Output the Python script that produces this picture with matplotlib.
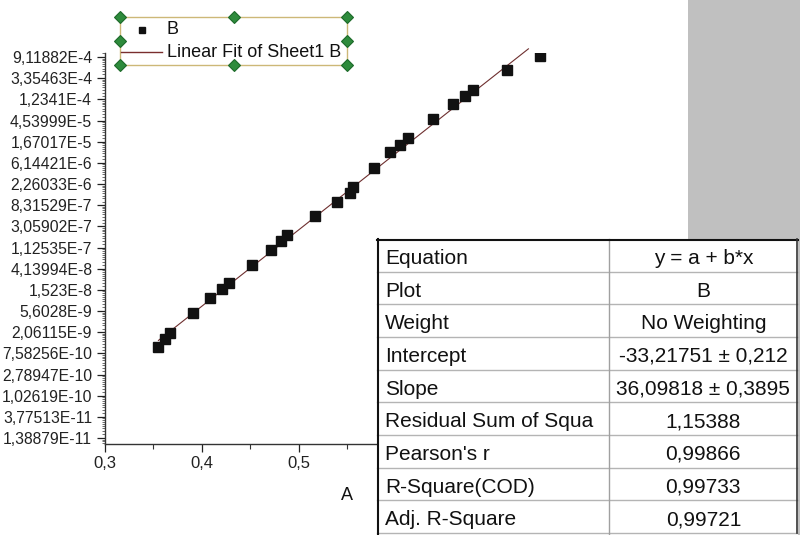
import numpy as np
import matplotlib
matplotlib.use('Agg')
import matplotlib.pyplot as plt
from matplotlib.ticker import FixedLocator, FuncFormatter, NullFormatter
from matplotlib.patches import Rectangle
from matplotlib.lines import Line2D

plt.rcParams['font.family'] = ['Liberation Sans', 'DejaVu Sans']

# ---------------- data ----------------
A_vals = [0.3554, 0.3622, 0.3674, 0.3914, 0.4091, 0.4211, 0.4279, 0.4523,
          0.4715, 0.4823, 0.4885, 0.5169, 0.5398, 0.5529, 0.5560, 0.5775,
          0.5943, 0.6049, 0.6127, 0.6384, 0.6589, 0.6717, 0.6795, 0.7144,
          0.7493]
lnB_vals = [-20.71, -20.31, -20.02, -19.08, -18.40, -17.97, -17.69, -16.83,
            -16.12, -15.68, -15.42, -14.50, -13.84, -13.44, -13.15, -12.22,
            -11.51, -11.16, -10.81, -9.93, -9.23, -8.84, -8.56, -7.61,
            -6.95]
B_vals = np.exp(lnB_vals)

fit_intercept = -33.21751
fit_slope = 36.09818
fit_x_end = 0.737

y_tick_exps = list(range(-7, -26, -1))
x_ticks = [0.3, 0.4, 0.5]          # the ones not hidden by the result table
x_minor = [0.35, 0.45, 0.55]

series_names = ['B', 'Linear Fit of Sheet1 B']
x_label = 'A'
table_labels = ['Equation', 'Plot', 'Weight', 'Intercept', 'Slope',
                'Residual Sum of Squa', "Pearson's r", 'R-Square(COD)',
                'Adj. R-Square']
table_values = ['y = a + b*x', 'B', 'No Weighting', '-33,21751 \u00b1 0,212',
                '36,09818 \u00b1 0,3895', '1,15388', '0,99866', '0,99733',
                '0,99721']

# ---------------- figure ----------------
W, H = 800, 535
fig = plt.figure(figsize=(8, 5.35), dpi=100)
fig.patch.set_facecolor('white')


def fx(px):
    return px / W


def fy(py):
    return 1 - py / H


# gray area on the right
fig.patches.append(Rectangle((fx(688), 0), 1 - fx(688), 1, transform=fig.transFigure,
                             facecolor='#c0c0c0', edgecolor='none', zorder=0))

ax_l, ax_r, ax_t, ax_b = 104.7, 589.5, 53, 444
ax = fig.add_axes([fx(ax_l), fy(ax_b), (ax_r - ax_l) / W, (ax_b - ax_t) / H])
ax.set_yscale('log', base=np.e)
ax.set_xlim(0.3, 0.8)
ax.set_ylim(np.exp(-25.28), np.exp(-6.81))

# data and fit
ax.plot(A_vals, B_vals, 's', ms=6.5, color='#111111', mec='#111111', zorder=3)
fx_line = np.array([min(A_vals), fit_x_end])
ax.plot(fx_line, np.exp(fit_intercept + fit_slope * fx_line), '-', color='#6e2f2f',
        lw=0.8, clip_on=False, zorder=2)

# ticks
ax.yaxis.set_major_locator(FixedLocator(np.exp(y_tick_exps)))
minor = []
for k in range(-26, -6):
    lo, hi = np.exp(k), np.exp(k + 1)
    for j in range(1, 9):
        minor.append(lo + j * (hi - lo) / 9)
ax.yaxis.set_minor_locator(FixedLocator(minor))


def yfmt(v, pos):
    m, e = f'{v:.5e}'.split('e')
    m = m.rstrip('0').rstrip('.')
    return f"{m.replace('.', ',')}E{int(e)}"


ax.yaxis.set_major_formatter(FuncFormatter(yfmt))
ax.yaxis.set_minor_formatter(NullFormatter())
ax.xaxis.set_major_locator(FixedLocator(x_ticks))
ax.xaxis.set_minor_locator(FixedLocator(x_minor))
ax.xaxis.set_major_formatter(FuncFormatter(lambda v, p: f'{v:.1f}'.replace('.', ',')))

for s in ['top', 'right']:
    ax.spines[s].set_visible(False)
for s in ['left', 'bottom']:
    ax.spines[s].set_linewidth(1.0)
    ax.spines[s].set_color('#333333')

ax.tick_params(axis='y', which='major', direction='out', length=5.5, width=0.9,
               pad=3.5, labelsize=11.3, colors='#222222')
ax.tick_params(axis='y', which='minor', direction='out', length=2.5, width=0.6,
               colors='#555555')
ax.tick_params(axis='x', which='major', direction='out', length=6, width=0.9,
               pad=2.5, labelsize=12, colors='#222222')
ax.tick_params(axis='x', which='minor', direction='out', length=3.5, width=0.8,
               colors='#333333')

ax.set_xlabel(x_label, fontsize=13, va='center', color='#111111')
ax.xaxis.set_label_coords(0.5, -(495 - ax_b) / (ax_b - ax_t))

# ---------------- legend (Origin style, selected) ----------------
lg_l, lg_r, lg_t, lg_b = 120, 347, 17, 65
fig.patches.append(Rectangle((fx(lg_l), fy(lg_b)), (lg_r - lg_l) / W, (lg_b - lg_t) / H,
                             transform=fig.transFigure, facecolor='none',
                             edgecolor='#cdb878', lw=1.0, zorder=4))
fig.lines.append(Line2D([fx(141.7)], [fy(29.5)], marker='s', ms=5, color='#111111',
                        transform=fig.transFigure, zorder=5))
fig.text(fx(166), fy(29.5), series_names[0], fontsize=13, va='center', ha='left',
         color='#111111')
fig.lines.append(Line2D([fx(121), fx(162)], [fy(51.7), fy(51.7)], color='#7a2e2e', lw=1.0,
                        transform=fig.transFigure, zorder=5))
fig.text(fx(167), fy(52), series_names[1], fontsize=13, va='center', ha='left',
         color='#111111')
hx = [lg_l, (lg_l + lg_r) / 2, lg_r]
hy = [lg_t, (lg_t + lg_b) / 2, lg_b]
for yy in hy:
    for xx in hx:
        if yy == hy[1] and xx == hx[1]:
            continue
        fig.lines.append(Line2D([fx(xx)], [fy(yy)], marker='D', ms=6, mfc='#2e8b3c',
                                mec='#1d6a2a', mew=0.8, transform=fig.transFigure,
                                zorder=6))

# ---------------- fit result table ----------------
t_l, t_r, t_t, t_b = 377, 798, 239, 535
tax = fig.add_axes([fx(t_l), fy(t_b), (t_r - t_l) / W, (t_b - t_t) / H], zorder=5)
tax.set_xlim(t_l, t_r)
tax.set_ylim(t_b, t_t)
tax.set_axis_off()
tax.add_patch(Rectangle((t_l, t_t), t_r - t_l, t_b - t_t, facecolor='white',
                        edgecolor='none', zorder=0))
row_h = (533 - 239) / 9
col_x = 608.7
for i in range(1, 10):
    yy = t_t + i * row_h
    tax.plot([t_l, t_r], [yy, yy], color='#b4b4b4', lw=1.0, clip_on=False, zorder=1)
tax.plot([col_x, col_x], [t_t, t_b], color='#a0a0a0', lw=1.0, clip_on=False, zorder=1)
tax.plot([t_l + 0.8, t_l + 0.8], [t_b, t_t], color='#111111', lw=1.5, clip_on=False, zorder=2)
tax.plot([t_l, t_r], [t_t + 0.8, t_t + 0.8], color='#111111', lw=1.5, clip_on=False, zorder=2)
tax.plot([t_r - 0.6, t_r - 0.6], [t_t, 533], color='#333333', lw=1.2, clip_on=False, zorder=2)
for i, (lab, val) in enumerate(zip(table_labels, table_values)):
    base = t_t + i * row_h + 25
    tax.text(385, base, lab, fontsize=15, ha='left', va='baseline', color='#111111')
    tax.text((col_x + t_r) / 2, base, val, fontsize=15, ha='center', va='baseline',
             color='#111111')

fig.savefig('out.png', dpi=100)
